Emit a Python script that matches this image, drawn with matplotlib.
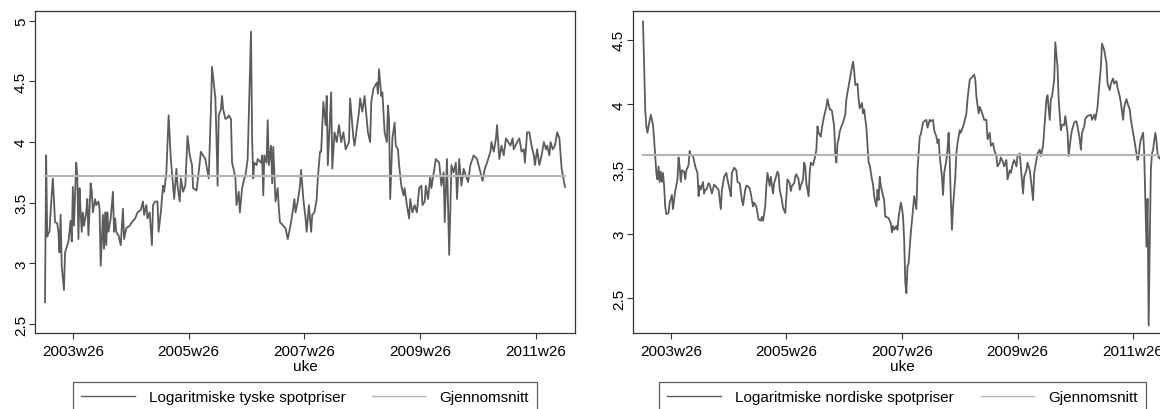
import matplotlib
matplotlib.use("Agg")
import matplotlib.pyplot as plt
from matplotlib.lines import Line2D

plt.rcParams['font.family'] = ['Liberation Sans', 'DejaVu Sans']

# week index: 0 = 2003w1 (52 weeks per year, Stata style)
tick_weeks = [25, 129, 233, 337, 441]
tick_labels = ["2003w26", "2005w26", "2007w26", "2009w26", "2011w26"]

# Logaritmiske tyske spotpriser
de_weeks = [0, 1, 2, 3, 4, 5, 7, 8, 9, 11, 12, 13, 14, 15, 17, 18, 20, 21, 22, 23,
            24, 25, 26, 28, 29, 30, 31, 32, 33, 34, 35, 37, 38, 39, 41, 42, 43, 45, 46, 48,
            49, 50, 52, 53, 54, 55, 56, 57, 59, 61, 62, 63, 64, 66, 68, 70, 71, 73, 76, 78,
            81, 83, 86, 88, 89, 91, 92, 94, 96, 97, 99, 101, 102, 104, 106, 107, 109, 111, 113, 115,
            116, 118, 119, 121, 122, 124, 126, 128, 130, 132, 133, 136, 138, 140, 142, 144, 147, 149, 150, 153,
            154, 155, 156, 158, 159, 160, 162, 164, 165, 167, 168, 170, 171, 172, 174, 175, 177, 179, 180, 182,
            185, 186, 187, 188, 190, 191, 194, 195, 196, 197, 199, 200, 201, 203, 204, 205, 207, 209, 210, 211,
            214, 216, 218, 220, 222, 224, 225, 227, 229, 230, 232, 234, 235, 237, 239, 240, 242, 244, 245, 247,
            248, 250, 252, 253, 254, 257, 258, 260, 262, 264, 266, 268, 270, 273, 274, 277, 278, 280, 282, 283,
            285, 287, 290, 292, 293, 295, 298, 299, 300, 302, 303, 305, 307, 308, 309, 310, 312, 314, 315, 317,
            318, 320, 322, 323, 325, 327, 328, 330, 332, 334, 336, 338, 339, 341, 342, 344, 346, 347, 351, 354,
            356, 358, 359, 361, 363, 365, 367, 369, 370, 372, 374, 376, 378, 380, 382, 385, 388, 391, 393, 395,
            397, 400, 401, 403, 405, 406, 408, 410, 412, 414, 416, 418, 420, 421, 424, 426, 428, 430, 431, 433,
            435, 437, 439, 440, 442, 444, 446, 448, 450, 451, 453, 454, 456, 458, 460, 462, 464, 467]
de_values = [2.68, 3.89, 3.22, 3.25, 3.26, 3.42, 3.70, 3.53, 3.34, 3.33, 3.26, 3.09, 3.40, 2.98, 2.78, 3.09, 3.15, 3.18, 3.26, 3.35,
             3.18, 3.63, 3.31, 3.83, 3.72, 3.20, 3.62, 3.42, 3.26, 3.42, 3.31, 3.42, 3.53, 3.23, 3.66, 3.59, 3.42, 3.53, 3.48, 3.51,
             3.45, 2.98, 3.40, 3.12, 3.42, 3.15, 3.42, 3.26, 3.37, 3.59, 3.26, 3.37, 3.26, 3.23, 3.15, 3.45, 3.20, 3.29, 3.31, 3.34,
             3.37, 3.42, 3.44, 3.51, 3.40, 3.48, 3.37, 3.42, 3.15, 3.48, 3.51, 3.51, 3.26, 3.42, 3.64, 3.59, 3.75, 4.22, 3.86, 3.64,
             3.53, 3.78, 3.64, 3.51, 3.70, 3.59, 3.64, 4.05, 3.89, 3.81, 3.62, 3.60, 3.75, 3.92, 3.89, 3.86, 3.70, 4.27, 4.62, 4.36,
             4.03, 3.64, 4.22, 4.27, 4.38, 4.27, 4.19, 4.20, 4.22, 4.19, 3.83, 3.75, 3.70, 3.48, 3.59, 3.42, 3.62, 3.70, 3.72, 3.86,
             4.91, 4.03, 3.70, 3.83, 3.81, 3.86, 3.83, 3.89, 3.56, 3.89, 3.83, 4.18, 3.81, 3.97, 3.66, 3.96, 3.51, 3.62, 3.45, 3.34,
             3.31, 3.29, 3.20, 3.29, 3.40, 3.53, 3.42, 3.51, 3.64, 3.77, 3.53, 3.37, 3.26, 3.48, 3.26, 3.40, 3.42, 3.53, 3.70, 3.92,
             3.92, 4.33, 4.14, 4.38, 3.81, 4.41, 3.78, 4.08, 4.00, 4.14, 4.00, 4.08, 3.94, 4.00, 4.36, 4.03, 3.97, 4.11, 4.25, 4.36,
             4.25, 4.38, 4.08, 4.00, 4.33, 4.44, 4.49, 4.40, 4.60, 4.38, 4.41, 4.08, 4.00, 4.30, 4.19, 3.53, 4.03, 4.16, 3.97, 3.94,
             3.81, 3.64, 3.56, 3.62, 3.48, 3.37, 3.53, 3.42, 3.48, 3.42, 3.62, 3.64, 3.48, 3.51, 3.64, 3.53, 3.72, 3.62, 3.86, 3.83,
             3.64, 3.75, 3.34, 3.86, 3.07, 3.81, 3.75, 3.83, 3.53, 3.86, 3.64, 3.78, 3.72, 3.67, 3.81, 3.89, 3.86, 3.75, 3.68, 3.78,
             3.83, 3.92, 4.00, 3.92, 4.03, 4.14, 3.86, 3.97, 3.89, 4.03, 4.00, 3.97, 4.03, 3.94, 4.00, 4.03, 3.92, 3.94, 3.83, 4.08,
             4.08, 3.97, 3.89, 3.81, 3.94, 3.81, 3.89, 4.00, 3.94, 3.97, 3.89, 4.00, 3.94, 3.97, 4.08, 4.03, 3.78, 3.63]
de_mean = 3.717

# Logaritmiske nordiske spotpriser
no_weeks = [0, 1, 2, 3, 4, 5, 7, 8, 9, 10, 11, 12, 13, 14, 15, 16, 17, 18, 19, 20,
            21, 23, 24, 26, 27, 29, 31, 32, 33, 34, 35, 37, 38, 39, 41, 42, 43, 45, 46, 47,
            49, 50, 51, 52, 54, 55, 56, 57, 59, 60, 62, 64, 65, 68, 70, 71, 73, 75, 76, 78,
            79, 80, 82, 84, 85, 87, 89, 90, 92, 93, 94, 96, 97, 99, 100, 102, 103, 104, 106, 107,
            108, 110, 111, 112, 113, 114, 115, 117, 118, 119, 121, 122, 123, 125, 126, 128, 129, 130, 132, 133,
            134, 136, 137, 138, 140, 141, 142, 144, 145, 146, 147, 149, 150, 151, 153, 155, 156, 157, 158, 160,
            161, 163, 165, 166, 168, 169, 170, 172, 173, 174, 175, 176, 177, 179, 180, 182, 183, 185, 187, 189,
            190, 191, 193, 194, 195, 197, 198, 199, 201, 202, 203, 204, 206, 207, 208, 210, 211, 212, 213, 214,
            216, 217, 218, 219, 221, 223, 224, 225, 226, 228, 229, 230, 232, 233, 234, 235, 236, 237, 238, 239,
            241, 243, 244, 246, 247, 249, 250, 252, 253, 255, 256, 258, 259, 261, 262, 264, 265, 266, 267, 269,
            270, 271, 273, 274, 275, 276, 277, 278, 279, 281, 282, 283, 285, 286, 288, 289, 291, 292, 294, 295,
            298, 299, 300, 302, 303, 304, 306, 307, 309, 310, 312, 313, 315, 316, 318, 319, 321, 322, 324, 325,
            327, 328, 330, 331, 333, 334, 336, 337, 339, 340, 342, 343, 345, 346, 348, 349, 351, 352, 354, 355,
            357, 358, 360, 361, 363, 364, 366, 367, 368, 370, 371, 373, 374, 376, 377, 379, 380, 382, 383, 385,
            386, 388, 390, 391, 393, 394, 395, 397, 398, 400, 403, 404, 406, 407, 409, 410, 412, 413, 415, 417,
            418, 420, 421, 423, 424, 426, 427, 429, 430, 432, 433, 435, 436, 438, 439, 441, 442, 444, 445, 446,
            447, 448, 450, 451, 452, 453, 454, 455, 456, 457, 458, 459, 460, 461, 462, 463, 464, 465, 466, 467]
no_values = [4.64, 4.29, 3.96, 3.83, 3.78, 3.83, 3.92, 3.88, 3.84, 3.73, 3.60, 3.47, 3.42, 3.52, 3.40, 3.48, 3.40, 3.47, 3.37, 3.21,
             3.15, 3.16, 3.24, 3.30, 3.19, 3.33, 3.42, 3.59, 3.52, 3.40, 3.49, 3.48, 3.42, 3.49, 3.53, 3.64, 3.61, 3.60, 3.56, 3.52,
             3.47, 3.29, 3.37, 3.34, 3.40, 3.31, 3.34, 3.34, 3.39, 3.38, 3.31, 3.38, 3.37, 3.34, 3.19, 3.34, 3.44, 3.47, 3.42, 3.34,
             3.29, 3.47, 3.51, 3.49, 3.40, 3.39, 3.26, 3.22, 3.34, 3.37, 3.37, 3.35, 3.31, 3.21, 3.24, 3.21, 3.16, 3.11, 3.10, 3.13,
             3.10, 3.21, 3.37, 3.47, 3.42, 3.37, 3.44, 3.31, 3.39, 3.42, 3.48, 3.46, 3.34, 3.26, 3.20, 3.16, 3.29, 3.42, 3.39, 3.33,
             3.37, 3.39, 3.44, 3.46, 3.42, 3.34, 3.37, 3.42, 3.55, 3.52, 3.39, 3.29, 3.47, 3.55, 3.53, 3.60, 3.65, 3.83, 3.78, 3.75,
             3.82, 3.91, 3.98, 4.04, 3.96, 3.96, 3.95, 3.83, 3.62, 3.55, 3.70, 3.73, 3.79, 3.84, 3.86, 3.92, 4.04, 4.14, 4.24, 4.33,
             4.26, 4.15, 4.16, 4.04, 3.97, 4.01, 3.93, 3.96, 3.82, 3.69, 3.55, 3.53, 3.42, 3.38, 3.29, 3.21, 3.34, 3.26, 3.44, 3.37,
             3.29, 3.26, 3.13, 3.13, 3.12, 3.08, 3.01, 3.06, 3.03, 3.06, 3.03, 3.13, 3.24, 3.20, 3.13, 2.95, 2.62, 2.54, 2.75, 2.77,
             3.01, 3.19, 3.29, 3.19, 3.49, 3.75, 3.77, 3.86, 3.87, 3.88, 3.82, 3.88, 3.87, 3.88, 3.80, 3.75, 3.70, 3.73, 3.60, 3.44,
             3.30, 3.47, 3.57, 3.65, 3.78, 3.57, 3.26, 3.03, 3.21, 3.44, 3.62, 3.70, 3.80, 3.78, 3.83, 3.86, 3.93, 4.04, 4.19, 4.20,
             4.23, 4.19, 4.06, 3.93, 3.98, 3.96, 3.91, 3.88, 3.88, 3.73, 3.78, 3.68, 3.70, 3.65, 3.60, 3.52, 3.55, 3.59, 3.55, 3.52,
             3.57, 3.42, 3.49, 3.47, 3.55, 3.57, 3.52, 3.60, 3.62, 3.52, 3.31, 3.44, 3.49, 3.55, 3.49, 3.42, 3.26, 3.47, 3.57, 3.62,
             3.65, 3.60, 3.68, 3.80, 4.04, 4.07, 3.88, 4.04, 4.06, 4.19, 4.48, 4.29, 4.04, 3.80, 3.84, 3.84, 3.91, 3.78, 3.60, 3.75,
             3.80, 3.86, 3.87, 3.83, 3.73, 3.65, 3.78, 3.83, 3.89, 3.91, 3.92, 3.88, 3.92, 3.88, 3.98, 4.09, 4.29, 4.47, 4.42, 4.32,
             4.16, 4.11, 4.16, 4.20, 4.16, 4.18, 4.13, 4.06, 4.01, 3.88, 3.98, 4.04, 4.01, 3.96, 3.88, 3.78, 3.73, 3.62, 3.57, 3.60,
             3.68, 3.73, 3.78, 3.62, 3.26, 2.90, 3.27, 2.29, 2.95, 3.50, 3.62, 3.65, 3.72, 3.78, 3.72, 3.62, 3.59, 3.58, 3.60, 3.57]
no_mean = 3.605

series_color = "#5c5c5c"
mean_color = "#b4b4b4"
frame_color = "#333333"

W, H = 1160, 410
fig = plt.figure(figsize=(W / 100, H / 100), dpi=100)


def panel(x0, x1, weeks, values, mean, ylim, yticks):
    ax = fig.add_axes([x0 / W, 1 - 334 / H, (x1 - x0) / W, (334 - 12) / H])
    ax.plot(weeks, values, color=series_color, lw=1.3)
    ax.plot([weeks[0], weeks[-1]], [mean, mean], color=mean_color, lw=1.5)
    ax.set_xlim(-9, 476)
    ax.set_ylim(*ylim)
    ax.set_xticks(tick_weeks)
    ax.set_xticklabels(tick_labels)
    ax.set_yticks(yticks)
    ax.set_yticklabels([f"{v:g}" for v in yticks], rotation=90, va="center")
    ax.tick_params(axis="both", direction="out", length=4, width=0.8,
                   color=frame_color, labelsize=11, labelcolor="black")
    ax.tick_params(axis="y", pad=1)
    ax.tick_params(axis="x", pad=4)
    for s in ax.spines.values():
        s.set_color(frame_color)
        s.set_linewidth(0.9)
    ax.set_xlabel("uke", fontsize=11, labelpad=1)
    handles = [Line2D([], [], color=series_color, lw=1.0),
               Line2D([], [], color=mean_color, lw=1.0)]
    return ax, handles


ax1, h1 = panel(35, 575, de_weeks, de_values, de_mean, (2.426, 5.08),
                [2.5, 3, 3.5, 4, 4.5, 5])
ax2, h2 = panel(633, 1172, no_weeks, no_values, no_mean, (2.232, 4.722),
                [2.5, 3, 3.5, 4, 4.5])


def legend(handles, labels, x0, x1):
    lg = fig.legend(handles, labels, loc="upper left", ncol=2, mode="expand",
                    bbox_to_anchor=(x0 / W, 1 - 383 / H, (x1 - x0) / W, 0),
                    frameon=True, fancybox=False, edgecolor=frame_color,
                    fontsize=11, handlelength=3.5, handletextpad=0.9,
                    borderaxespad=0, borderpad=0.55, columnspacing=2.0)
    lg.get_frame().set_linewidth(0.9)
    return lg


legend(h1, ["Logaritmiske tyske spotpriser", "Gjennomsnitt"], 73, 537)
legend(h2, ["Logaritmiske nordiske spotpriser", "Gjennomsnitt"], 659, 1146)

fig.savefig("out.png", dpi=100, facecolor="white")
